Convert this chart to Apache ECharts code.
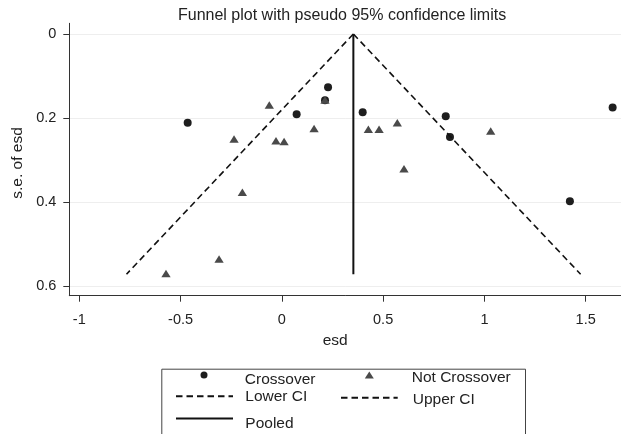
<!DOCTYPE html>
<html><head><meta charset="utf-8">
<script src="https://cdn.jsdelivr.net/npm/echarts@6/dist/echarts.min.js"></script>
<style>html,body{margin:0;padding:0;background:#fff}#c{width:621px;height:434px}</style>
</head><body><div id="c"></div>
<script>
// ---- data ----
const xTicks = [-1, -0.5, 0, 0.5, 1, 1.5];
const xTickLabels = ['-1', '-0.5', '0', '0.5', '1', '1.5'];
const yTicks = [0, 0.2, 0.4, 0.6];
const yTickLabels = ['0', '0.2', '0.4', '0.6'];

const crossoverX = [-0.465, 0.073, 0.228, 0.399, 0.213, 0.809, 0.830, 1.633, 1.422];
const crossoverY = [0.211, 0.191, 0.127, 0.186, 0.158, 0.196, 0.245, 0.175, 0.398];

const notCrossoverX = [-0.062, -0.236, -0.029, 0.011, 0.159, 0.213, -0.195, -0.310, -0.572, 0.427, 0.480, 0.570, 0.603, 1.031];
const notCrossoverY = [0.169, 0.250, 0.254, 0.256, 0.225, 0.157, 0.377, 0.536, 0.570, 0.227, 0.227, 0.211, 0.321, 0.231];

const pooledX = [0.353, 0.353];
const pooledY = [0, 0.572];
const lowerCIX = [0.353, -0.767];
const lowerCIY = [0, 0.572];
const upperCIX = [0.353, 1.475];
const upperCIY = [0, 0.572];

const seriesNames = ['Crossover', 'Not Crossover', 'Lower CI', 'Upper CI', 'Pooled'];
const titleText = 'Funnel plot with pseudo 95% confidence limits';
const xName = 'esd';
const yName = 's.e. of esd';

// ---- build ----
const zip = (a, b) => a.map((v, i) => [v, b[i]]);
const FONT = '"Liberation Sans", Arial, sans-serif';
const TXT = '#222';
const chart = echarts.init(document.getElementById('c'), null, {renderer: 'canvas'});

const legendText = (padTop, padLeft) => ({
  color: TXT, fontFamily: FONT, fontSize: 15.5, lineHeight: 18,
  rich: {t: {color: TXT, fontFamily: FONT, fontSize: 15.5, lineHeight: 18, padding: [padTop, 0, 0, padLeft]}}
});
const baseLegend = {selectedMode: false, padding: 0, itemGap: 0, orient: 'horizontal',
  formatter: n => '{t|' + n + '}'};
const hideSym = {itemStyle: {color: 'rgba(0,0,0,0)', borderColor: 'rgba(0,0,0,0)', borderWidth: 0, opacity: 0}};

chart.setOption({
  animation: false,
  backgroundColor: '#fff',
  title: {
    text: titleText, left: 178, top: 7.5, padding: 0,
    textStyle: {color: TXT, fontFamily: FONT, fontSize: 16, fontWeight: 'normal'}
  },
  grid: {left: 69.3, right: 0, top: 23.3, bottom: 138.3, containLabel: false},
  xAxis: {
    type: 'value', min: -1.0494, max: 1.6743,
    name: xName, nameLocation: 'middle', nameGap: 37,
    nameTextStyle: {color: TXT, fontFamily: FONT, fontSize: 15.5, padding: [0, 20, 0, 0]},
    axisLine: {show: true, onZero: false, lineStyle: {color: '#333', width: 1}},
    axisTick: {show: true, length: 6, lineStyle: {color: '#333', width: 1}, customValues: xTicks},
    axisLabel: {customValues: xTicks, margin: 17, color: TXT, fontFamily: FONT, fontSize: 14.5,
      formatter: v => xTickLabels[xTicks.findIndex(t => Math.abs(t - v) < 1e-9)] ?? ''},
    splitLine: {show: false}
  },
  yAxis: {
    type: 'value', inverse: true, min: -0.0255, max: 0.6231,
    name: yName, nameLocation: 'middle', nameGap: 43, nameRotate: 90,
    nameTextStyle: {color: TXT, fontFamily: FONT, fontSize: 15.5, padding: [0, 7, 0, 0]},
    axisLine: {show: true, onZero: false, lineStyle: {color: '#333', width: 1}},
    axisTick: {show: true, length: 6, lineStyle: {color: '#333', width: 1}, customValues: yTicks},
    axisLabel: {customValues: yTicks, margin: 13, color: TXT, fontFamily: FONT, fontSize: 14.5,
      formatter: v => yTickLabels[yTicks.findIndex(t => Math.abs(t - v) < 1e-9)] ?? ''},
    splitLine: {show: true, lineStyle: {color: '#eeeeee', width: 1}}
  },
  legend: [
    Object.assign({}, baseLegend, {data: ['Crossover'], left: 200.5, top: 362, itemWidth: 57, itemHeight: 7,
      textStyle: legendText(10, 7.3)}),
    Object.assign({}, baseLegend, {data: ['Not Crossover'], left: 364.8, top: 364.3, itemWidth: 9, itemHeight: 7,
      textStyle: legendText(5.4, 32.9)}),
    Object.assign({}, baseLegend, hideSym, {data: ['Lower CI'], left: 175, top: 387.3, itemWidth: 57, itemHeight: 14,
      textStyle: legendText(1.4, 7.3)}),
    Object.assign({}, baseLegend, hideSym, {data: ['Upper CI'], left: 340, top: 388, itemWidth: 56.7, itemHeight: 14,
      textStyle: legendText(3.4, 10)}),
    Object.assign({}, baseLegend, hideSym, {data: ['Pooled'], left: 175, top: 405.5, itemWidth: 57, itemHeight: 14,
      textStyle: legendText(10, 7.3)})
  ],
  graphic: [{
    type: 'rect', left: 159.3, top: 366.7, silent: true,
    shape: {width: 363.7, height: 100},
    style: {fill: 'none', stroke: '#444', lineWidth: 1}
  }],
  series: [
    {name: seriesNames[0], type: 'scatter', symbol: 'circle', symbolSize: 8, z: 3,
      itemStyle: {color: '#1e1e1e', opacity: 1}, data: zip(crossoverX, crossoverY)},
    {name: seriesNames[1], type: 'scatter', symbol: 'triangle', symbolSize: [9.3, 7.5], z: 4,
      itemStyle: {color: '#4a4a4a', opacity: 1}, data: zip(notCrossoverX, notCrossoverY)},
    {name: seriesNames[2], type: 'line', symbol: 'none', showSymbol: false, z: 5,
      lineStyle: {color: '#111', width: 1.6, type: [6.5, 4]}, itemStyle: {color: '#111'},
      data: zip(lowerCIX, lowerCIY)},
    {name: seriesNames[3], type: 'line', symbol: 'none', showSymbol: false, z: 5,
      lineStyle: {color: '#111', width: 1.6, type: [6.5, 4]}, itemStyle: {color: '#111'},
      data: zip(upperCIX, upperCIY)},
    {name: seriesNames[4], type: 'line', symbol: 'none', showSymbol: false, z: 5,
      lineStyle: {color: '#111', width: 2, type: 'solid'}, itemStyle: {color: '#111'},
      data: zip(pooledX, pooledY)}
  ]
});
</script></body></html>
